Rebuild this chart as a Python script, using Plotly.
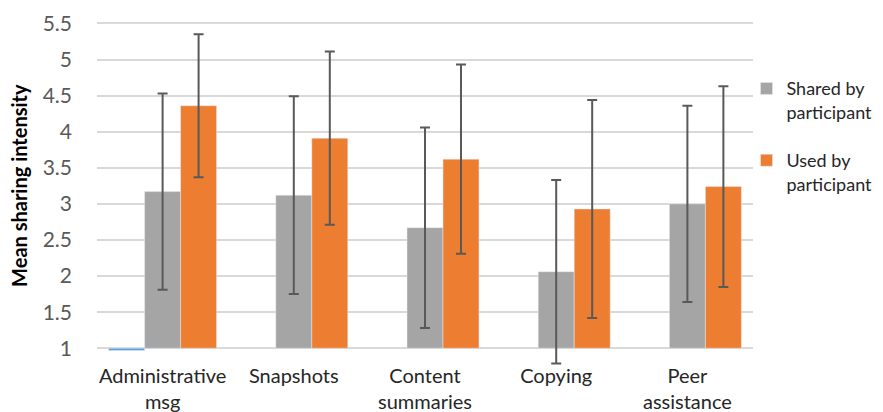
import plotly.graph_objects as go

categories = ["Administrative<br>msg", "Snapshots", "Content<br>summaries", "Copying", "Peer<br>assistance"]
hidden_values = [0.97, None, None, None, None]
shared_values = [3.17, 3.12, 2.67, 2.06, 3.00]
shared_err = [1.36, 1.37, 1.39, 1.27, 1.36]
used_values = [4.36, 3.91, 3.62, 2.93, 3.24]
used_err = [0.99, 1.20, 1.31, 1.51, 1.39]
y_ticks = [1, 1.5, 2, 2.5, 3, 3.5, 4, 4.5, 5, 5.5]
y_tick_text = ["1", "1.5", "2", "2.5", "3", "3.5", "4", "4.5", "5", "5.5"]

BASE = 1
FONT = "Lato"

def rel(vals):
    return [None if v is None else v - BASE for v in vals]

err_style = dict(type="data", visible=True, color="#595959", thickness=2, width=5)

fig = go.Figure()
fig.add_trace(go.Bar(x=categories, y=rel(hidden_values), base=BASE, marker_color="#5B9BD5",
                     showlegend=False, name="hidden"))
fig.add_trace(go.Bar(x=categories, y=rel(shared_values), base=BASE, marker_color="#A5A5A5",
                     name="Shared by<br>participant", legendgroup="a",
                     error_y=dict(array=shared_err, **err_style)))
fig.add_trace(go.Bar(x=categories, y=rel(used_values), base=BASE, marker_color="#ED7D31",
                     name="Used by<br>participant", legendgroup="b",
                     error_y=dict(array=used_err, **err_style)))

fig.update_layout(
    width=875, height=404,
    margin=dict(l=89, r=130, t=14, b=45, autoexpand=False),
    paper_bgcolor="white", plot_bgcolor="white",
    barmode="group", bargap=0.177, bargroupgap=0,
    font=dict(family=FONT, color="#262626"),
    yaxis=dict(range=[0.74, 5.52], tickvals=y_ticks, ticktext=y_tick_text,
               showgrid=True, gridcolor="#D9D9D9", gridwidth=1.5, zeroline=False,
               showline=False, ticks="", ticklabelstandoff=24, automargin=False,
               tickfont=dict(size=21, color="#595959", family=FONT)),
    xaxis=dict(showgrid=False, showline=False, ticks="", zeroline=False, automargin=False,
               ticklabelstandoff=-5,
               tickfont=dict(size=20, color="#262626", family=FONT)),
    legend=dict(xref="container", yref="container", x=0.844, xanchor="left",
                y=0.846, yanchor="top", valign="top",
                tracegroupgap=22, font=dict(size=18, color="#262626", family=FONT),
                itemwidth=30, bgcolor="rgba(0,0,0,0)"),
    annotations=[dict(text="<b>Mean sharing intensity</b>", textangle=-90,
                      xref="paper", yref="paper", x=-(89 - 11) / 656, y=0.525,
                      xanchor="center", yanchor="middle", showarrow=False,
                      font=dict(size=20, color="#000000", family=FONT))],
)

fig.write_html("out.html")
